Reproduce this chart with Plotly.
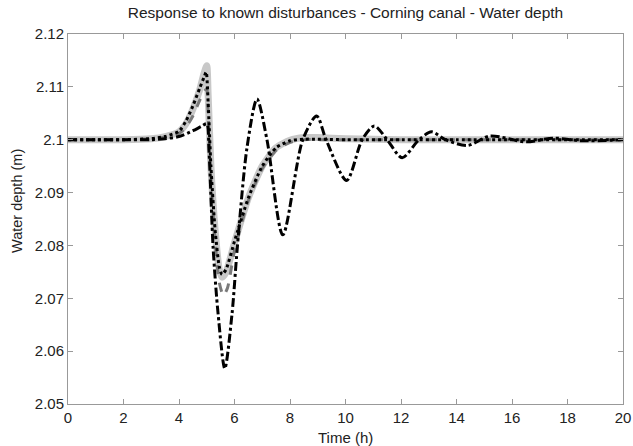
import plotly.graph_objects as go

# Thick light-gray solid series
t_a = [0, 1, 2, 3, 3.5, 4.0, 4.25, 4.5, 4.75, 4.9, 5.0, 5.05, 5.15, 5.3, 5.45, 5.55, 5.7, 6.0, 6.5, 7.0, 7.5, 8.0, 8.5, 9.0, 10, 12, 14, 16, 18, 20]
y_a = [2.1, 2.1, 2.1, 2.1002, 2.1006, 2.1015, 2.1030, 2.1058, 2.1095, 2.1125, 2.1140, 2.1085, 2.0950, 2.0830, 2.0755, 2.0740, 2.0750, 2.0805, 2.0890, 2.0950, 2.0985, 2.0999, 2.1004, 2.1004, 2.1002, 2.1, 2.1, 2.1, 2.1, 2.1]

# Gray dashed series
t_b = [0, 1, 2, 3, 3.5, 4.0, 4.25, 4.5, 4.75, 4.9, 5.0, 5.05, 5.15, 5.3, 5.45, 5.6, 5.75, 6.0, 6.5, 7.0, 7.5, 8.0, 8.5, 9.0, 10, 12, 14, 16, 18, 20]
y_b = [2.1, 2.1, 2.1, 2.1002, 2.1005, 2.1012, 2.1024, 2.1045, 2.1075, 2.1090, 2.1097, 2.1050, 2.0930, 2.0810, 2.0730, 2.0705, 2.0720, 2.0790, 2.0885, 2.0945, 2.0980, 2.0995, 2.1, 2.1, 2.1, 2.1, 2.1, 2.1, 2.1, 2.1]

# Black dotted series
t_c = [0, 1, 2, 3, 3.5, 4.0, 4.25, 4.5, 4.75, 4.9, 4.98, 5.05, 5.15, 5.3, 5.45, 5.55, 5.7, 6.0, 6.5, 7.0, 7.5, 8.0, 8.5, 9.0, 10, 12, 14, 16, 18, 20]
y_c = [2.1, 2.1, 2.1, 2.1002, 2.1006, 2.1016, 2.1035, 2.1064, 2.1098, 2.1118, 2.1128, 2.1070, 2.0950, 2.0830, 2.0760, 2.0745, 2.0755, 2.0808, 2.0890, 2.0950, 2.0985, 2.0998, 2.1001, 2.1001, 2.1, 2.1, 2.1, 2.1, 2.1, 2.1]

# Black dash-dot series (oscillating)
t_d = [0, 1, 2, 3, 3.5, 4.0, 4.5, 4.8, 5.0, 5.08, 5.23, 5.41, 5.65, 5.91, 6.1, 6.45, 6.81, 7.17, 7.74, 8.46, 8.96, 9.3, 10.04, 10.6, 11.04, 11.5, 12.04, 12.65, 13.1, 13.6, 14.4, 15.2, 16.5, 17.5, 18.5, 20]
y_d = [2.1, 2.1, 2.1, 2.1, 2.1002, 2.1006, 2.1017, 2.1025, 2.1030, 2.0980, 2.0795, 2.0670, 2.0567, 2.0670, 2.0795, 2.0985, 2.1077, 2.1000, 2.0820, 2.1000, 2.1045, 2.1000, 2.0923, 2.1000, 2.1026, 2.1000, 2.0966, 2.1000, 2.1015, 2.1000, 2.0989, 2.1007, 2.0996, 2.1003, 2.0998, 2.1]

x_ticks = [0, 2, 4, 6, 8, 10, 12, 14, 16, 18, 20]
y_ticks = [2.05, 2.06, 2.07, 2.08, 2.09, 2.1, 2.11, 2.12]
y_tick_labels = ["2.05", "2.06", "2.07", "2.08", "2.09", "2.1", "2.11", "2.12"]

fig = go.Figure()
fig.add_trace(go.Scatter(x=t_a, y=y_a, mode="lines", line=dict(color="#c8c8c8", width=7, shape="spline", smoothing=0.6)))
fig.add_trace(go.Scatter(x=t_b, y=y_b, mode="lines", line=dict(color="#7a7a7a", width=3, dash="dash", shape="spline", smoothing=0.6)))
fig.add_trace(go.Scatter(x=t_c, y=y_c, mode="lines", line=dict(color="black", width=3, dash="dot", shape="spline", smoothing=0.6)))
fig.add_trace(go.Scatter(x=t_d, y=y_d, mode="lines", line=dict(color="black", width=3, dash="dashdot", shape="spline", smoothing=0.8)))

font_family = "Liberation Sans, Arial, Helvetica, sans-serif"
fig.update_layout(
    width=633, height=446,
    margin=dict(l=68, r=10, t=34, b=42),
    paper_bgcolor="white", plot_bgcolor="white",
    showlegend=False,
    font=dict(family=font_family, size=15, color="#222"),
    title=dict(text="Response to known disturbances - Corning canal - Water depth",
               x=0.5, xanchor="center", xref="paper", y=1 - 13 / 446, yanchor="middle",
               font=dict(size=15.5, color="#222")),
    annotations=[
        dict(text="Time (h)", xref="paper", yref="paper", x=0.5, y=-(437 - 404) / 370,
             xanchor="center", yanchor="middle", showarrow=False, font=dict(size=15, color="#222")),
        dict(text="Water depth (m)", xref="paper", yref="paper", x=-(68 - 17) / 555, y=(404 - 201) / 370,
             xanchor="center", yanchor="middle", textangle=-90, showarrow=False, font=dict(size=14.5, color="#222")),
    ],
)
fig.update_xaxes(range=[0, 20], tickvals=x_ticks, ticks="inside", ticklen=5, tickcolor="#999", automargin=False,
                 showline=True, linecolor="#999", linewidth=1, mirror="ticks", showgrid=False, zeroline=False)
fig.update_yaxes(range=[2.05, 2.12], tickvals=y_ticks, ticktext=y_tick_labels, ticks="inside", ticklen=5, tickcolor="#999", automargin=False,
                 showline=True, linecolor="#999", linewidth=1, mirror="ticks", showgrid=False, zeroline=False)

fig.write_html("out.html", config={"displayModeBar": False},
               post_script="document.body.style.margin='0';document.body.style.overflow='hidden';")
